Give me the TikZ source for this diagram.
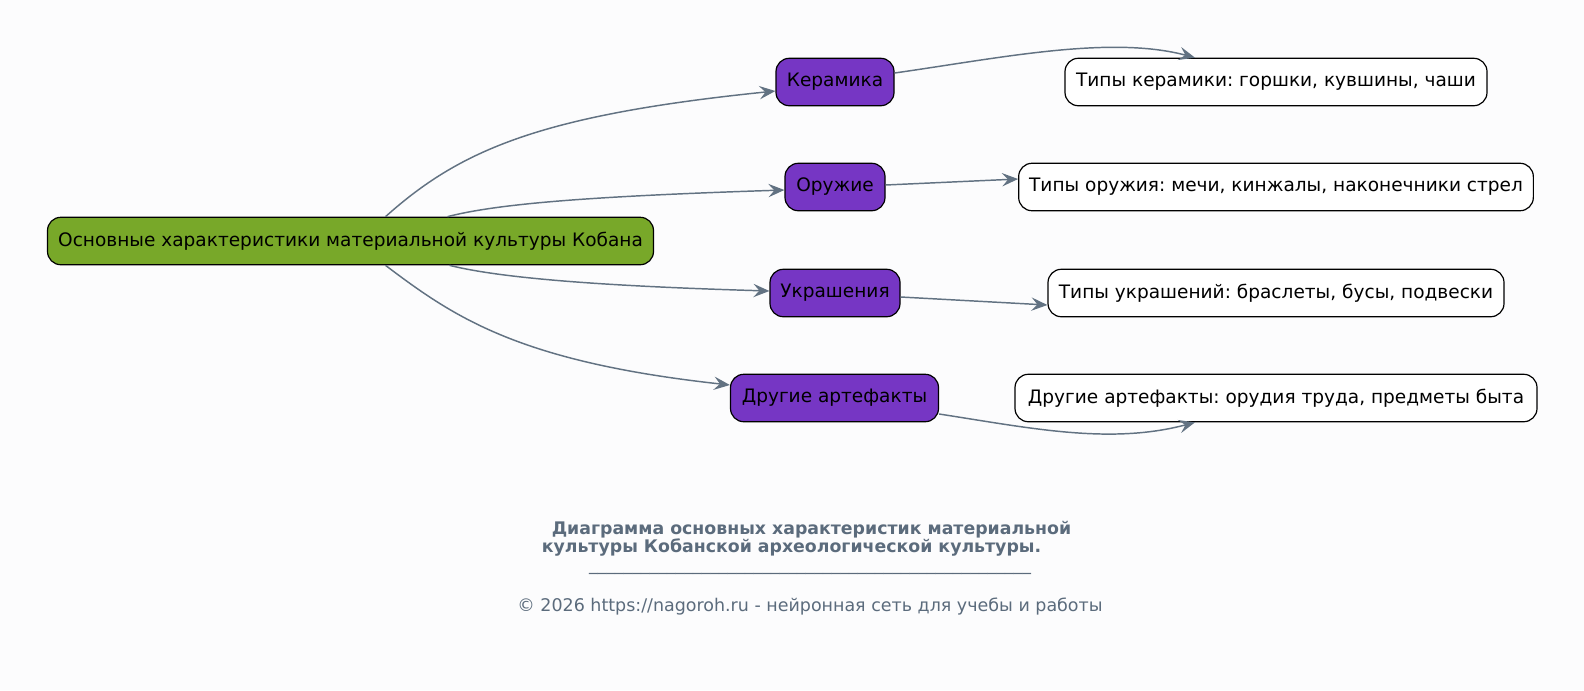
\documentclass[tikz,border=0pt]{standalone}
\usepackage{fontspec}
\setmainfont{DejaVu Sans}
\usetikzlibrary{arrows.meta,calc}
\frenchspacing
\definecolor{bgc}{HTML}{FCFCFD}
\definecolor{rootc}{HTML}{78A829}
\definecolor{purp}{HTML}{7636C4}
\definecolor{edgec}{HTML}{627282}
\definecolor{capc}{HTML}{5B6B7C}
\tikzset{
  box/.style={draw=black, line width=0.9pt, rounded corners=10pt, minimum height=35.6pt, inner sep=0pt, font=\fontsize{13.9}{16}\selectfont, text=black},
  rootbox/.style={box, fill=rootc},
  catbox/.style={box, fill=purp},
  leafbox/.style={box, fill=white},
  conn/.style={draw=edgec, line width=1.1pt, -{Stealth[length=12pt, width=10pt, inset=4.5pt]}},
  captext/.style={text=capc, inner sep=0pt, anchor=base},
}
\begin{document}
\begin{tikzpicture}[x=0.75pt, y=-0.75pt]
\fill[bgc] (0,0) rectangle (1584,690);
\useasboundingbox (0,0) rectangle (1584,690);

\node[rootbox, minimum width=454.5pt] (root) at (350.5,241) {Основные характеристики материальной культуры Кобана};

\node[catbox, minimum width=88.5pt] (ker) at (835,82) {Керамика};
\node[catbox, minimum width=75pt] (oru) at (835,187) {Оружие};
\node[catbox, minimum width=97.5pt] (ukr) at (835,293) {Украшения};
\node[catbox, minimum width=156pt] (dru) at (834.5,398) {Другие артефакты};

\node[leafbox, minimum width=316.5pt] (tker) at (1276,82) {Типы керамики: горшки, кувшины, чаши};
\node[leafbox, minimum width=386pt] (toru) at (1276,187) {Типы оружия: мечи, кинжалы, наконечники стрел};
\node[leafbox, minimum width=342pt] (tukr) at (1276,293) {Типы украшений: браслеты, бусы, подвески};
\node[leafbox, minimum width=391.5pt] (tdru) at (1276,398) {Другие артефакты: орудия труда, предметы быта};

\draw[conn] ($(root.north)+(35,0)$) .. controls (460,150) and (540,115) .. ($(ker.west)+(0,9)$);
\draw[conn] ($(root.north)+(97,0)$) .. controls (500,203) and (600,196) .. ($(oru.west)+(0,3)$);
\draw[conn] ($(root.south)+(99,0)$) .. controls (500,278) and (600,286) .. ($(ukr.west)+(0,-2)$);
\draw[conn] ($(root.south)+(35,0)$) .. controls (455,318) and (520,362) .. ($(dru.west)+(0,-13)$);

\draw[conn] ($(ker.east)+(0,-9)$) .. controls (1000,58) and (1110,35) .. ($(tker.north)+(-81,0)$);
\draw[conn] ($(oru.east)+(0,-2)$) -- ($(toru.west)+(0,-8)$);
\draw[conn] ($(ukr.east)+(0,4)$) -- ($(tukr.west)+(0,12)$);
\draw[conn] ($(dru.east)+(0,16)$) .. controls (1030,428) and (1110,445) .. ($(tdru.south)+(-81,0)$);

\node[captext, anchor=base west, font=\fontsize{13}{15}\selectfont\bfseries] (c1) at (551.5,534.5) {Диаграмма основных характеристик материальной};
\node[captext, anchor=base west, font=\fontsize{13}{15}\selectfont\bfseries] (c2) at (541.5,552.5) {культуры Кобанской археологической культуры.};
\node[captext, font=\fontsize{13}{15}\selectfont] (c3) at (810,570) {\_\_\_\_\_\_\_\_\_\_\_\_\_\_\_\_\_\_\_\_\_\_\_\_\_\_\_\_\_\_\_\_\_\_\_\_\_\_\_\_\_\_\_\_\_\_\_\_\_\_\_};
\node[captext, font=\fontsize{13.1}{15}\selectfont] (c4) at (810,611) {© 2026 https://nagoroh.ru - нейронная сеть для учебы и работы};
\end{tikzpicture}
\end{document}
